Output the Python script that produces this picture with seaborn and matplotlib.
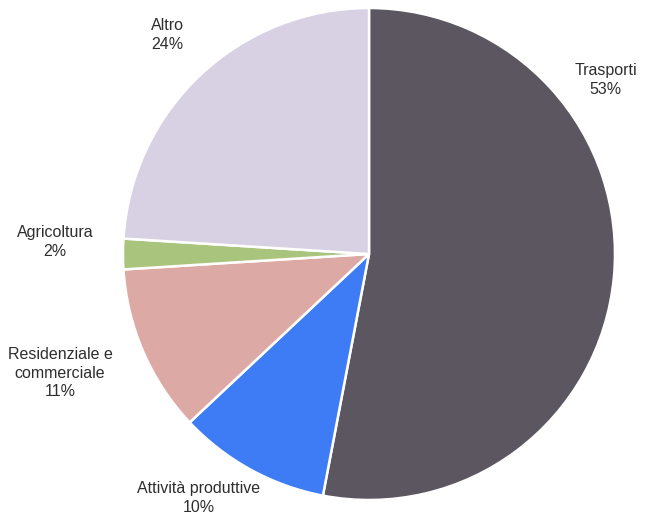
import matplotlib
matplotlib.use("Agg")
import matplotlib.pyplot as plt
import seaborn as sns

# Share of emissions by sector (%)
sectors = ["Trasporti", "Attività produttive", "Residenziale e\ncommerciale", "Agricoltura", "Altro"]
shares = [53, 10, 11, 2, 24]
colors = ["#5c5661", "#3e7cf6", "#dca9a5", "#a9c57d", "#d8d1e4"]
# label anchor points in pie units (radius = 1)
label_pos = [(0.963, 0.707), (-0.691, -0.992), (-1.256, -0.484), (-1.276, 0.049), (-0.82, 0.89)]

sns.set_theme(style="white")
plt.rcParams["font.family"] = ["Liberation Sans", "DejaVu Sans"]

fig = plt.figure(figsize=(6.45, 5.15), dpi=100)
ax = fig.add_axes([0, 0, 1, 1])
ax.pie(shares, colors=colors, startangle=90, counterclock=False, radius=1.0,
       wedgeprops=dict(edgecolor="white", linewidth=1.8))
ax.set_xlim(-1.5, 1.122)
ax.set_ylim(-1.061, 1.0325)
ax.set_aspect("auto")
ax.axis("off")

for name, val, (x, y) in zip(sectors, shares, label_pos):
    ax.text(x, y, f"{name}\n{val}%", ha="center", va="center", fontsize=11.5,
            color="#2e2e2e", linespacing=1.3)

fig.savefig("out.png", dpi=100)
